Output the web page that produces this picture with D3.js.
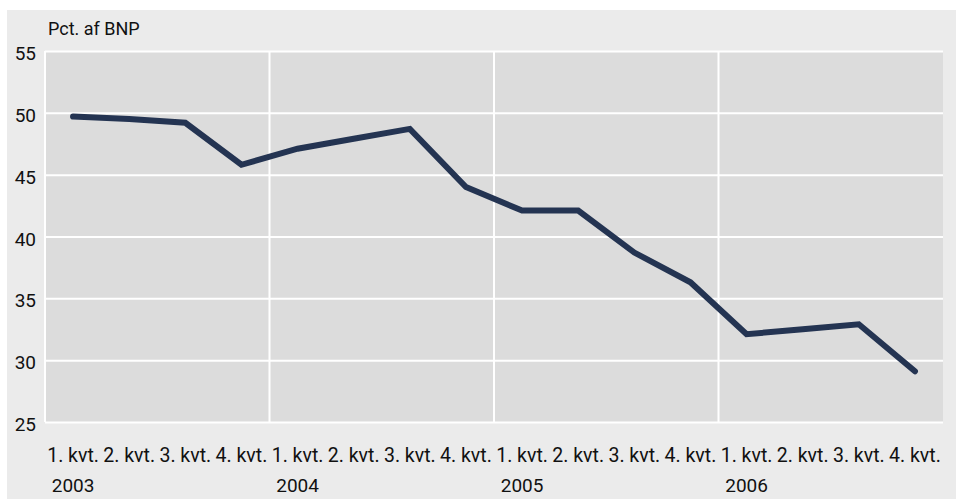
<!DOCTYPE html>
<html>
<head>
    <meta charset="utf-8">
    <title>Pct. af BNP</title>
    <script src="https://cdn.jsdelivr.net/npm/d3@7"></script>
    <style>
        body { margin: 0; background: #fff; }
        text { font-family: "Liberation Sans Narrow", "Roboto", sans-serif; fill: #111; }
        .grid line { stroke: #fff; stroke-width: 2px; }
        .line { fill: none; stroke: #243452; stroke-width: 6px; stroke-linecap: round; stroke-linejoin: miter; }
    </style>
</head>
<body>
    <script>
        var years = ["2003", "2004", "2005", "2006"];
        var quarters = ["1. kvt.", "2. kvt.", "3. kvt.", "4. kvt."];
        var values = [49.7, 49.5, 49.2, 45.8,
                      47.1, 47.9, 48.7, 44.0,
                      42.1, 42.1, 38.7, 36.3,
                      32.1, 32.5, 32.9, 29.1];
        var yTicks = [25, 30, 35, 40, 45, 50, 55];

        var width = 956;
        var height = 499;
        var margin = {top: 51, right: 13, bottom: 77, left: 45};
        var w = width - margin.left - margin.right;
        var h = height - margin.top - margin.bottom;
        var font = "'Liberation Sans Narrow', 'Roboto', sans-serif";

        // one key per quarter
        var keys = [];
        years.forEach(function(y) {
            quarters.forEach(function(q, i) { keys.push(y + "-" + i); });
        });
        var data = keys.map(function(k, i) { return {key: k, value: values[i]}; });

        var svg = d3.select("body").append("svg")
            .attr("width", width)
            .attr("height", height);

        svg.append("rect")
            .attr("x", 7).attr("y", 10)
            .attr("width", width - 7).attr("height", height - 10)
            .attr("fill", "#ebebeb");

        var g = svg.append("g")
            .attr("transform", "translate(" + margin.left + "," + margin.top + ")");

        var x = d3.scaleBand().domain(keys).range([0, w]);
        var y = d3.scaleLinear().domain([25, 55]).range([h, 0]);

        g.append("rect")
            .attr("width", w).attr("height", h)
            .attr("fill", "#dcdcdc");

        // vertical lines at year boundaries
        g.append("g").attr("class", "grid")
            .selectAll("line")
            .data(years)
            .enter().append("line")
            .attr("x1", function(d) { return x(d + "-0"); })
            .attr("x2", function(d) { return x(d + "-0"); })
            .attr("y1", 0).attr("y2", h);

        var yAxis = g.append("g").attr("class", "grid")
            .call(d3.axisLeft(y).tickValues(yTicks).tickSize(-w).tickPadding(9));
        yAxis.select(".domain").remove();
        yAxis.selectAll("text")
            .attr("dy", "0.45em")
            .style("font-size", "19px")
            .style("font-family", font)
            .attr("fill", "#111");

        var xAxis = g.append("g")
            .attr("transform", "translate(0," + h + ")")
            .call(d3.axisBottom(x).tickSize(0).tickPadding(26)
                .tickFormat(function(d) { return quarters[+d.split("-")[1]]; }));
        xAxis.select(".domain").remove();
        xAxis.selectAll("text")
            .style("font-size", "19.5px")
            .style("font-family", font)
            .attr("fill", "#111");

        g.selectAll(".year")
            .data(years)
            .enter().append("text")
            .attr("class", "year")
            .attr("x", function(d) { return x(d + "-0") + x.bandwidth() / 2; })
            .attr("y", h + 70)
            .attr("text-anchor", "middle")
            .style("font-size", "19px")
            .text(function(d) { return d; });

        svg.append("text")
            .attr("x", 48).attr("y", 35)
            .style("font-size", "18px")
            .text("Pct. af BNP");

        var line = d3.line()
            .x(function(d) { return x(d.key) + x.bandwidth() / 2; })
            .y(function(d) { return y(d.value); });

        g.append("path")
            .datum(data)
            .attr("class", "line")
            .attr("d", line);
    </script>
</body>
</html>
